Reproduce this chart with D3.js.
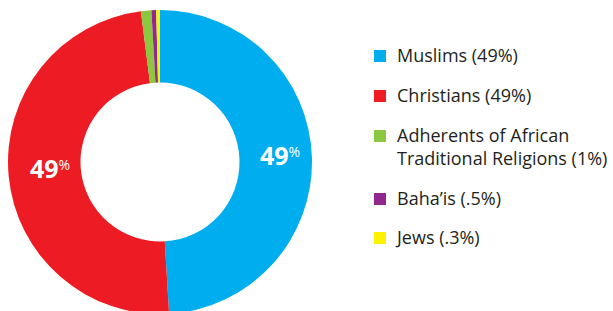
<!DOCTYPE html>
<html><head><meta charset="utf-8">
<script src="https://cdn.jsdelivr.net/npm/d3@7"></script>
<style>body{margin:0;background:#fff}svg{display:block}</style>
</head><body>
<script>
const categories = ["Muslims", "Christians", "Adherents of African Traditional Religions", "Baha\u2019is", "Jews"];
const values = [48.9, 48.8, 1.1, 0.5, 0.4];
const legendLabels = [["Muslims (49%)"], ["Christians (49%)"], ["Adherents of African", "Traditional Religions (1%)"], ["Baha\u2019is (.5%)"], ["Jews (.3%)"]];
const colors = ["#00AEEF", "#ED1C24", "#8DC63F", "#92278F", "#FFF200"];
const sliceLabels = ["49", "49", null, null, null];

const W = 613, H = 311;
const svg = d3.select("body").append("svg").attr("width", W).attr("height", H);
const cx = 160, cy = 162, rOuter = 152, rInner = 79.5;
const font = "'Open Sans', 'Noto Sans', sans-serif";

const pie = d3.pie().sort(null).value(d => d)(values);
const arc = d3.arc().innerRadius(rInner).outerRadius(rOuter);
const g = svg.append("g").attr("transform", `translate(${cx},${cy})`);
g.selectAll("path").data(pie).join("path")
  .attr("d", arc).attr("fill", (d, i) => colors[i]);

const labelPos = [[260, 165], [30, 178]];
pie.forEach((d, i) => {
  if (!sliceLabels[i]) return;
  const t = svg.append("text").attr("x", labelPos[i][0]).attr("y", labelPos[i][1])
    .attr("fill", "#fff").attr("font-family", font).attr("font-weight", 700).attr("font-size", 25);
  t.append("tspan").text(sliceLabels[i]);
  t.append("tspan").attr("font-size", 14).attr("font-weight", 400).attr("dy", -8).text("%");
});

const rowY = [62, 102, 142, 205, 244];
const lg = svg.append("g");
legendLabels.forEach((lines, i) => {
  lg.append("rect").attr("x", 374).attr("y", rowY[i] - 12).attr("width", 12).attr("height", 12).attr("fill", colors[i]);
  lines.forEach((s, j) => {
    lg.append("text").attr("x", 397).attr("y", rowY[i] + j * 23)
      .attr("font-family", font).attr("font-size", 18).attr("fill", "#231F20").text(s);
  });
});
</script>
</body></html>
